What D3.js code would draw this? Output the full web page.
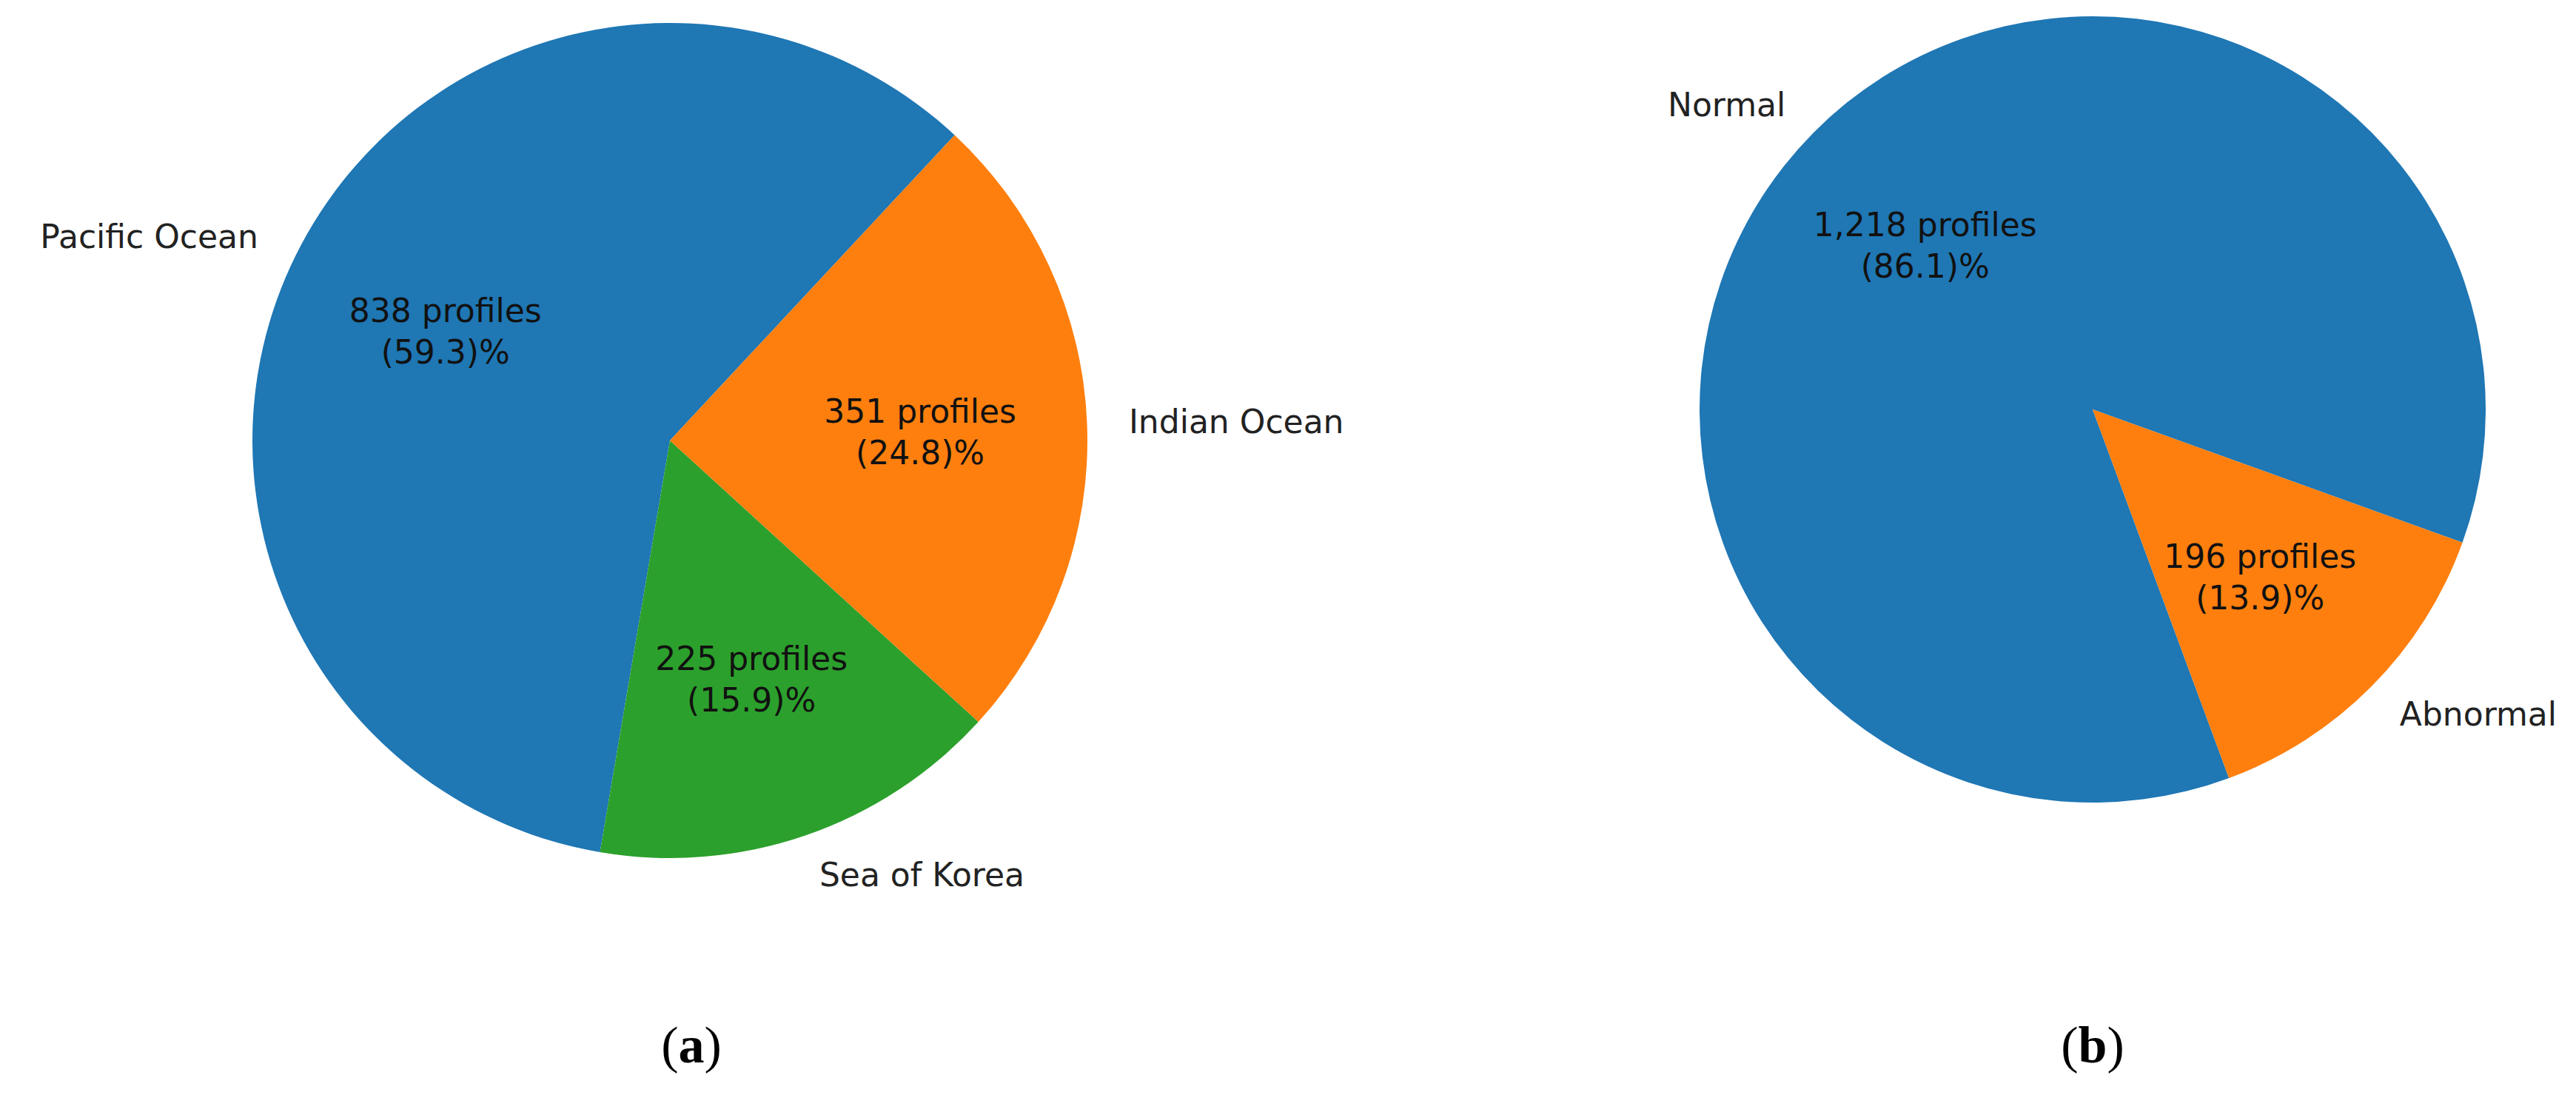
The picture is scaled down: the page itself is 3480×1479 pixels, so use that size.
<!DOCTYPE html><html><head><meta charset="utf-8"><script src="https://cdn.jsdelivr.net/npm/d3@7"></script>
<style>body{margin:0;background:#fff}</style></head><body>
<svg id="c" width="3480" height="1479"></svg>
<script>
const regionLabels=["Pacific Ocean","Sea of Korea","Indian Ocean"];
const regionCounts=[838,225,351];
const regionPct=["59.3","15.9","24.8"];
const statusLabels=["Normal","Abnormal"];
const statusCounts=[1218,196];
const statusPct=["86.1","13.9"];
const colors=["#1f77b4","#2ca02c","#ff7f0e"];
const colorsB=["#1f77b4","#ff7f0e"];
const svg=d3.select("#c");
const fmt=d3.format(",");
function draw(cx,cy,r,startDeg,labels,counts,pcts,cols,caption){
  const g=svg.append("g").attr("transform",`translate(${cx},${cy})`);
  const s=startDeg*Math.PI/180;
  const pie=d3.pie().sort(null).startAngle(s).endAngle(s-2*Math.PI);
  const arcs=pie(counts);
  const arc=d3.arc().innerRadius(0).outerRadius(r);
  g.selectAll("path").data(arcs).join("path").attr("d",arc).attr("fill",(d,i)=>cols[i]);
  arcs.forEach((d,i)=>{
    const a=(d.startAngle+d.endAngle)/2;
    const x=Math.sin(a), y=-Math.cos(a);
    g.append("text").attr("x",x*r*1.1).attr("y",y*r*1.1).attr("dy","0.35em")
      .attr("text-anchor",x<0?"end":"start").attr("font-family","DejaVu Sans").attr("font-size",44).attr("fill","#222")
      .text(labels[i]);
    const t=g.append("text").attr("text-anchor","middle").attr("font-family","DejaVu Sans").attr("font-size",44).attr("fill","#111");
    t.append("tspan").attr("x",x*r*0.6).attr("y",y*r*0.6-10).text(fmt(counts[i])+" profiles");
    t.append("tspan").attr("x",x*r*0.6).attr("y",y*r*0.6+46).text("("+pcts[i]+")%");
  });
  const c=svg.append("text").attr("x",cx+(caption==="a"?29:0)).attr("y",1435).attr("text-anchor","middle")
    .attr("font-family","Liberation Serif").attr("font-size",70);
  c.append("tspan").text("(");c.append("tspan").attr("font-weight","bold").text(caption);c.append("tspan").text(")");
}
draw(905,595,564,90-47,regionLabels,regionCounts,regionPct,colors,"a");
draw(2827,553,531,90+19.8,statusLabels,statusCounts,statusPct,colorsB,"b");
</script></body></html>
